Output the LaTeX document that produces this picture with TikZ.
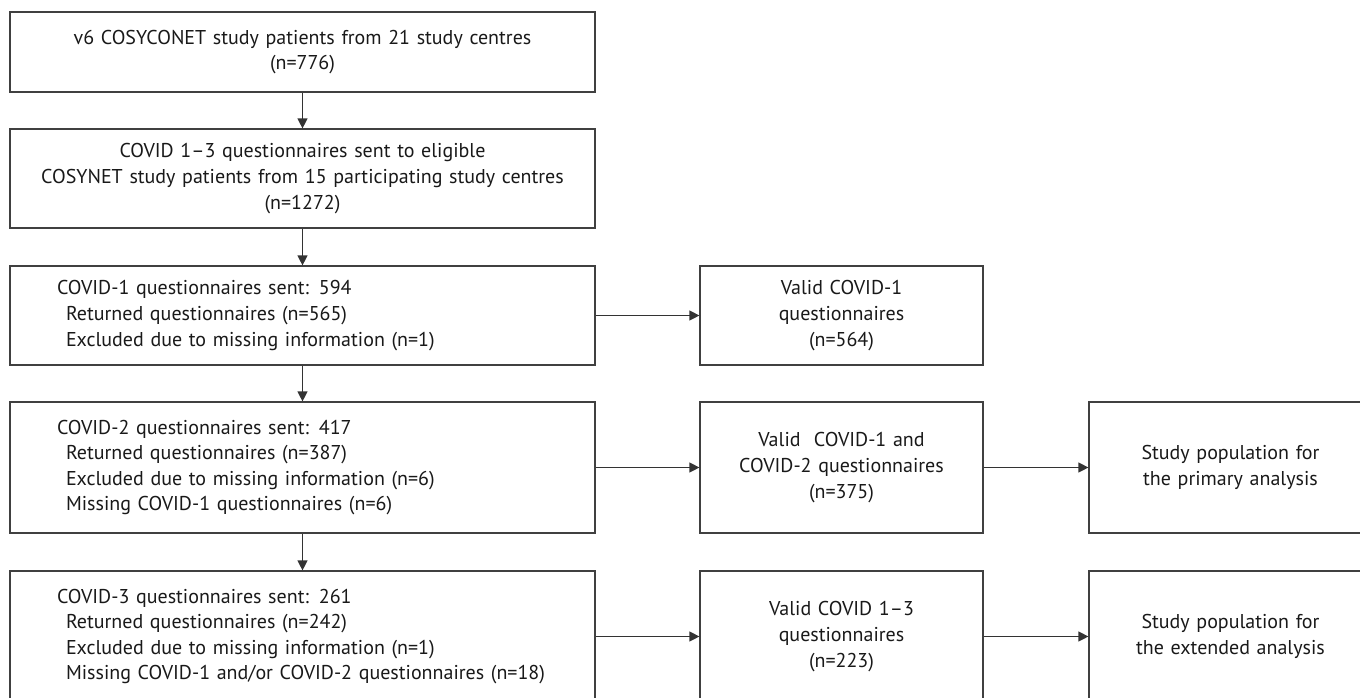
\documentclass[tikz,border=0pt]{standalone}
\usepackage{fontspec}
\setmainfont{PT Sans}
\usetikzlibrary{arrows.meta}
\usetikzlibrary{positioning}

\begin{document}
\begin{tikzpicture}[
  x=1pt, y=-1pt,
  > = {Triangle[length=10pt,width=10pt]},
  every node/.style = {font=\fontsize{20}{25.6}\selectfont, text=black!90},
  box/.style = {draw=black!75, line width=1.2pt, inner ysep=0pt},
  cbox/.style = {box, align=center, inner xsep=0pt},
  lbox/.style = {box, align=left, text width=491pt, inner xsep=47pt},
  flow/.style = {->, draw=black!80, line width=1.2pt}
  ]
	\useasboundingbox (0,0) rectangle (1360,697);

	\node[cbox, text width=585pt, minimum height=80pt] (v6) at (302.5,52)
		{v6 COSYCONET study patients from 21 study centres\\(n=776)};
	\node[cbox, text width=585pt, minimum height=99pt] (sent) at (302.5,178.5)
		{COVID 1--3 questionnaires sent to eligible\\COSYNET study patients from 15 participating study centres\\(n=1272)};

	\node[lbox, minimum height=99pt] (covA) at (302.5,315.5)
		{COVID-1 questionnaires sent: 594\\
		\hspace*{9pt}Returned questionnaires (n=565)\\
		\hspace*{9pt}Excluded due to missing information (n=1)};
	\node[lbox, minimum height=131pt] (covB) at (302.5,467.5)
		{COVID-2 questionnaires sent: 417\\
		\hspace*{9pt}Returned questionnaires (n=387)\\
		\hspace*{9pt}Excluded due to missing information (n=6)\\
		\hspace*{9pt}Missing COVID-1 questionnaires (n=6)};
	\node[lbox, minimum height=131pt] (covC) at (302.5,636.5)
		{COVID-3 questionnaires sent: 261\\
		\hspace*{9pt}Returned questionnaires (n=242)\\
		\hspace*{9pt}Excluded due to missing information (n=1)\\
		\hspace*{9pt}Missing COVID-1 and/or COVID-2 questionnaires (n=18)};

	\node[cbox, text width=283pt, minimum height=99pt] (validA) at (841.5,315.5)
		{Valid COVID-1\\questionnaires\\(n=564)};
	\node[cbox, text width=283pt, minimum height=131pt] (validB) at (841.5,467.5)
		{Valid\ \ COVID-1 and\\COVID-2 questionnaires\\(n=375)};
	\node[cbox, text width=283pt, minimum height=131pt] (validC) at (841.5,636.5)
		{Valid COVID 1--3\\questionnaires\\(n=223)};

	\node[cbox, text width=283pt, minimum height=131pt] (primary) at (1230.5,467.5)
		{Study population for\\the primary analysis};
	\node[cbox, text width=283pt, minimum height=131pt] (extended) at (1230.5,636.5)
		{Study population for\\the extended analysis};

	\draw[flow] (v6) -- (sent);
	\draw[flow] (sent) -- (covA);
	\draw[flow] (covA) -- (covB);
	\draw[flow] (covB) -- (covC);

	\draw[flow] (covA) -- (validA);
	\draw[flow] (covB) -- (validB);
	\draw[flow] (covC) -- (validC);
	\draw[flow] (validB) -- (primary);
	\draw[flow] (validC) -- (extended);

\end{tikzpicture}
\end{document}
